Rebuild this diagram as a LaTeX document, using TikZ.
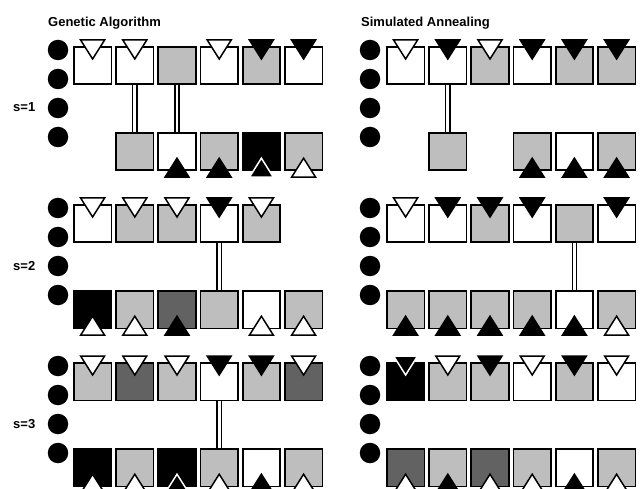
\documentclass[tikz,border=0pt]{standalone}
\usepackage{fontspec}
\setmainfont{Liberation Sans}
\definecolor{lgray}{HTML}{BEBEBE}
\definecolor{dgray}{HTML}{626262}
\tikzset{
  box/.style={draw, line width=1.7pt, minimum size=37.5pt, inner sep=0pt, anchor=north west},
  f-w/.style={fill=white}, f-l/.style={fill=lgray}, f-d/.style={fill=dgray},
  f-k/.style={fill=black}, f-n/.style={draw=none},
  t-w/.style={fill=white, draw=black, line width=1.5pt},
  t-k/.style={fill=black, draw=black, line width=1.5pt},
  t-x/.style={fill=black, draw=white, line width=1.5pt},
  t-n/.style={},
  dot/.style={circle, fill=black, minimum size=20.5pt, inner sep=0pt},
  title/.style={font=\fontsize{13}{15}\selectfont\bfseries, inner sep=0pt, anchor=base west},
  slab/.style={font=\fontsize{13}{15}\selectfont\bfseries, inner sep=0pt, anchor=west},
  conn/.style={draw, line width=1.4pt, double=white, double distance=2.8pt},
}
\newcommand\toprow[4]{% prefix, x0, y, spec
  \foreach[count=\i] \f/\t in {#4} {
    \node[box, f-\f] (#1\i) at ({#2+(\i-1)*42.2}, #3) {};
    \path[t-\t] (#1\i.north) ++(-12,-6) -- ++(24,0) -- ++(-12,19) -- cycle;
  }}
\newcommand\botrow[4]{%
  \foreach[count=\i] \f/\t in {#4} {
    \node[box, f-\f] (#1\i) at ({#2+(\i-1)*42.2}, #3) {};
    \path[t-\t] (#1\i.south) ++(-12,6) -- ++(24,0) -- ++(-12,-19) -- cycle;
  }}
\newcommand\dotcol[3]{% prefix, x, ytop
  \foreach[count=\j] \d in {4,33,62,91} {
    \node[dot] (#1\j) at (#2, #3+\d) {};
  }}
\begin{document}
\begin{tikzpicture}[x=1pt, y=-1pt]
\useasboundingbox (0,0) rectangle (640,489);
\node[title] (tga) at (48,27) {Genetic Algorithm};
\node[title] (tsa) at (361,27) {Simulated Annealing};
\node[slab] (s1) at (13,107) {s=1};
\node[slab] (s2) at (13,266) {s=2};
\node[slab] (s3) at (13,424) {s=3};
% Genetic Algorithm
\dotcol{gdA}{58}{46}
\dotcol{gdB}{58}{204}
\dotcol{gdC}{58}{362}
\toprow{gAt}{73}{46}{w/w, w/w, l/n, w/w, l/k, w/k}
\botrow{gAb}{73}{132}{n/n, l/n, w/k, l/k, k/x, l/w}
\draw[conn] (gAt2.south) -- (gAb2.north);
\draw[conn] (gAt3.south) -- (gAb3.north);
\toprow{gBt}{73}{204}{w/w, l/w, l/w, w/k, l/w}
\botrow{gBb}{73}{290}{k/w, l/w, d/k, l/n, w/w, l/w}
\draw[conn] (gBt4.south) -- (gBb4.north);
\toprow{gCt}{73}{362}{l/w, d/w, l/w, w/k, l/k, d/w}
\botrow{gCb}{73}{448}{k/w, l/w, k/x, l/w, w/k, l/w}
\draw[conn] (gCt4.south) -- (gCb4.north);
% Simulated Annealing
\dotcol{sdA}{370}{46}
\dotcol{sdB}{370}{204}
\dotcol{sdC}{370}{362}
\toprow{sAt}{386}{46}{w/w, w/k, l/w, w/k, l/k, l/k}
\botrow{sAb}{386}{132}{n/n, l/n, n/n, l/k, w/k, l/k}
\draw[conn] (sAt2.south) -- (sAb2.north);
\toprow{sBt}{386}{204}{w/w, w/k, l/k, w/k, l/n, w/k}
\botrow{sBb}{386}{290}{l/k, l/k, l/k, l/k, w/k, l/w}
\draw[conn] (sBt5.south) -- (sBb5.north);
\toprow{sCt}{386}{362}{k/x, l/w, l/k, w/w, l/k, w/w}
\botrow{sCb}{386}{448}{d/w, l/k, d/w, l/w, w/k, l/w}
\end{tikzpicture}
\end{document}
